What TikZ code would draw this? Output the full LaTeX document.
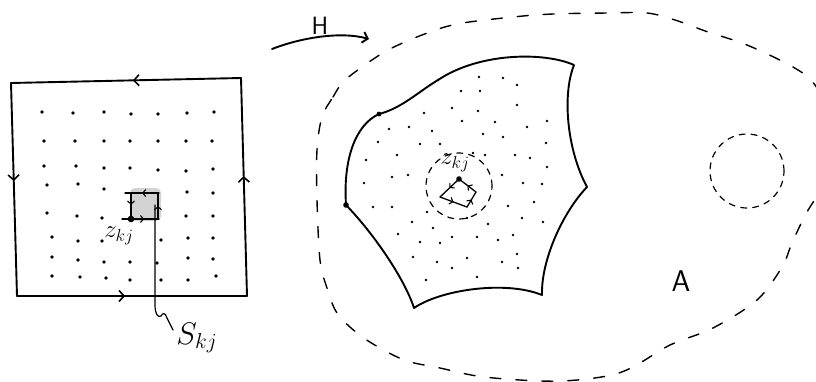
\documentclass[tikz,border=0pt]{standalone}
\usetikzlibrary{arrows.meta,decorations.markings}
\tikzset{
  edge/.style={line width=1.9pt, line cap=round, line join=round},
  thin edge/.style={line width=1.3pt, line cap=round, line join=round},
  dashline/.style={line width=1.4pt, dash pattern=on 11pt off 15pt, line cap=round},
  smalldash/.style={line width=1.2pt, dash pattern=on 6pt off 6pt, line cap=round},
  midarr/.style={postaction={decorate},decoration={markings,mark=at position #1 with {\arrow{Straight Barb[length=5pt,width=11pt,line width=1.6pt]}}}},
  midarr/.default=0.5,
  tinyarr/.style={postaction={decorate},decoration={markings,mark=at position #1 with {\arrow{Straight Barb[length=3pt,width=7pt,line width=1.1pt]}}}},
  tinyarr/.default=0.5,
  gdot/.style={fill=black},
  lbl/.style={inner sep=0pt, font=\fontsize{20.74}{24}\selectfont}
}
\begin{document}
\begin{tikzpicture}[x=1pt,y=-1pt]
\useasboundingbox (0,0) rectangle (816,381);
% ---------------- left square ----------------
\coordinate (TL) at (11,83);
\coordinate (TR) at (241,78);
\coordinate (BR) at (247,296);
\coordinate (BL) at (17,296);
\draw[edge,midarr=0.47] (TR) -- (TL);
\draw[edge,midarr=0.46] (TL) -- (BL);
\draw[edge,midarr=0.47] (BL) -- (BR);
\draw[edge,midarr=0.55] (BR) -- (TR);
% grid dots
\foreach \x/\y in {42/112,73/113,104/112,131/114,158/114,187/113,214/112,
  44/141,75/141,104/141,130/141,158/141,186/141,212/141,
  44/166,76/166,104/168,130/168,158/170,186/171,213/169,
  47/185,78/184,104/189,187/192,213/193,
  47/213,77/216,102/218,186/216,213/216,
  52/237,78/241,102/241,161/240,188/238,213/238,
  52/257,78/260,104/262,130/262,157/263,188/258,213/259,
  52/276,80/277,106/278,130/280,161/280,188/280,216/276}
  \fill[gdot] (\x,\y) circle (1.8pt);
% small shaded square
\fill[gray!35, rounded corners=5pt] (130,188) rectangle (161,221);
\coordinate (s1) at (159,193);
\coordinate (s2) at (125,193);
\coordinate (s3) at (131,193);
\coordinate (s4) at (131,219);
\coordinate (s5) at (122,219);
\coordinate (s6) at (159,219);
\coordinate (s7) at (158,219);
\coordinate (s8) at (158,193);
\draw[thin edge,tinyarr=0.5] (s1) -- (s2);
\draw[thin edge,tinyarr=0.45] (s3) -- (s4);
\draw[thin edge,tinyarr=0.6] (s5) -- (s6);
\draw[thin edge,tinyarr=0.5] (s7) -- (s8);
\fill (s4) circle (3.3pt);
\node[lbl,scale=1.2] (zl) at (119,236) {$z_{kj}$};
% lead to S_kj
\coordinate (sp) at (155,205);
\coordinate (se) at (173,330);
\draw[line width=1.2pt, line cap=round] (sp) -- (155,305) .. controls (155,314) and (158,318) .. (161,316)
  .. controls (163,313) and (165,312) .. (167,318) -- (se);
\node[lbl,scale=1.5] (Sl) at (197,338) {$S_{kj}$};
% ---------------- H arrow ----------------
\coordinate (h1) at (272,49);
\coordinate (h2) at (369,39);
\draw[edge,-{Straight Barb[length=5pt,width=11pt]}] (h1) .. controls (300,38) and (340,31) .. (h2);
\node[lbl,font=\sffamily\fontsize{25}{27}\selectfont] (H) at (320,26) {H};
% ---------------- outer dashed region ----------------
\draw[dashline] plot[smooth cycle, tension=0.55] coordinates {
 (322,117) (333,97) (343,82) (362,67) (388,50) (422,35) (457,24) (513,17) (553,14)
 (608,13) (647,13) (675,20) (708,32) (747,45) (793,67) (815,85)
 (835,125) (832,170) (807,212) (792,243) (782,267) (757,300) (713,328) (670,345)
 (633,367) (607,376) (563,381) (520,380) (477,376) (440,368) (407,361) (380,348)
 (357,333) (337,313) (327,288) (320,260) (317,200) (317,150)};
% hole
\draw[smalldash] (747,171) circle (37pt);
\node[lbl,font=\sffamily\fontsize{30}{32}\selectfont] (A) at (681,281) {A};
% ---------------- image blob ----------------
\coordinate (P1) at (379,114);
\coordinate (P2) at (346,205);
\coordinate (P3) at (414,308);
\coordinate (P4) at (542,295);
\coordinate (P5) at (587,187);
\coordinate (P6) at (574,65);
\coordinate (P7) at (438,80);
\draw[edge] (P6) .. controls (545,52) and (480,52) .. (P7) .. controls (418,92) and (402,108) .. (P1)
  .. controls (355,125) and (343,160) .. (P2)
  .. controls (375,235) and (405,280) .. (P3)
  .. controls (440,290) and (505,280) .. (P4)
  .. controls (541,260) and (563,212) .. (P5)
  .. controls (567,150) and (562,95) .. (P6);
\fill (P1) circle (2.4pt);
\fill (P2) circle (2.8pt);
\fill (P7) circle (1.4pt);
\foreach \x/\y in {479/77,503/78,517/85,461/91,480/91,517/105,452/108,478/111,424/113,
  462/121,495/122,527/127,547/121,389/129,409/127,432/131,483/134,503/137,378/142,
  420/144,440/144,397/155,530/158,515/155,546/143,366/160,473/153,485/155,392/177,
  408/175,364/183,502/175,523/183,542/184,547/167,373/207,392/207,427/212,508/206,
  534/202,522/218,543/222,412/222,433/228,488/224,467/218,452/237,477/237,498/240,
  513/235,398/234,420/242,440/243,413/257,437/262,467/258,502/262,517/254,452/268,
  518/268,426/280,477/277}
  \fill[gdot] (\x,\y) circle (1.3pt);
% small dashed disc and quadrilateral
\draw[smalldash] (459,186) circle (33pt);
\coordinate (Q1) at (459,179);
\coordinate (Q2) at (476,192);
\coordinate (Q3) at (467,207);
\coordinate (Q4) at (440,197);
\draw[thin edge,tinyarr=0.5] (Q1) -- (Q4);
\draw[thin edge,tinyarr=0.5] (Q4) -- (Q3);
\draw[thin edge,tinyarr=0.5] (Q3) -- (Q2);
\draw[thin edge,tinyarr=0.5] (Q2) -- (Q1);
\fill (Q1) circle (2.8pt);
\node[lbl,scale=1.2] (zm) at (455,163) {$z_{kj}$};
\end{tikzpicture}
\end{document}
